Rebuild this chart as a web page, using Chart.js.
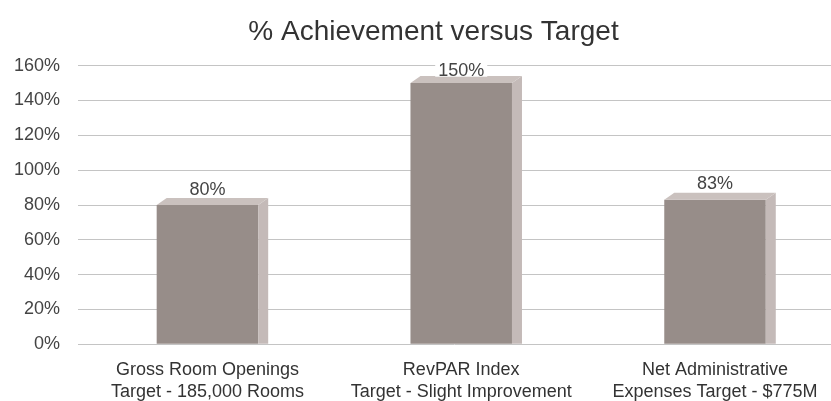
<!DOCTYPE html>
<html>
<head>
<meta charset="utf-8">
<script src="https://cdn.jsdelivr.net/npm/chart.js@4"></script>
<style>
html,body{margin:0;padding:0;background:#fff;overflow:hidden}
#wrap{width:831px;height:401px}
</style>
</head>
<body>
<div id="wrap"><canvas id="c" width="831" height="401"></canvas></div>
<script>
// ---- data ----
const chartTitle = '% Achievement versus Target';
const categories = [
  ['Gross Room Openings', 'Target - 185,000 Rooms'],
  ['RevPAR Index', 'Target - Slight Improvement'],
  ['Net Administrative', 'Expenses Target - $775M']
];
const achievement = [80, 150, 83];
const yTickValues = [0, 20, 40, 60, 80, 100, 120, 140, 160];

// ---- style ----
const FONT = '"Liberation Sans", Arial, Helvetica, sans-serif';
const FRONT = '#978d89';
const SIDE = '#c4bab8';
const TOP = '#cac1be';
const DX = 10, DY = 7;

const bar3d = {
  id: 'bar3d',
  afterDatasetsDraw(chart) {
    const ctx = chart.ctx;
    chart.getDatasetMeta(0).data.forEach(b => {
      const p = b.getProps(['x', 'y', 'base', 'width'], true);
      const l = p.x - p.width / 2, r = p.x + p.width / 2;
      ctx.save();
      ctx.fillStyle = SIDE;
      ctx.beginPath();
      ctx.moveTo(r, p.y); ctx.lineTo(r + DX, p.y - DY); ctx.lineTo(r + DX, p.base); ctx.lineTo(r, p.base);
      ctx.closePath(); ctx.fill();
      ctx.fillStyle = TOP;
      ctx.beginPath();
      ctx.moveTo(l, p.y); ctx.lineTo(l + DX, p.y - DY); ctx.lineTo(r + DX, p.y - DY); ctx.lineTo(r, p.y);
      ctx.closePath(); ctx.fill();
      ctx.restore();
    });
  }
};

const valueLabels = {
  id: 'valueLabels',
  afterDatasetsDraw(chart) {
    const ctx = chart.ctx;
    const top = chart.chartArea.top;
    ctx.save();
    ctx.font = '18px ' + FONT;
    ctx.textAlign = 'center';
    ctx.textBaseline = 'alphabetic';
    chart.getDatasetMeta(0).data.forEach((b, i) => {
      const p = b.getProps(['x', 'y'], true);
      const txt = achievement[i] + '%';
      const by = Math.max(p.y - 10.5, top + 10);
      const w = ctx.measureText(txt).width;
      ctx.fillStyle = '#ffffff';
      ctx.fillRect(p.x - w / 2 - 3, by - 13, w + 6, 14);
      ctx.fillStyle = '#444444';
      ctx.fillText(txt, p.x, by);
    });
    ctx.restore();
  }
};

const titlePlugin = {
  id: 'titlePlugin',
  afterDraw(chart) {
    const ctx = chart.ctx;
    ctx.save();
    ctx.font = '28px ' + FONT;
    ctx.fillStyle = '#333333';
    ctx.textAlign = 'center';
    ctx.textBaseline = 'alphabetic';
    ctx.fillText(chartTitle, 433.5, 40);
    ctx.restore();
  }
};

new Chart(document.getElementById('c'), {
  type: 'bar',
  data: {
    datasets: [{
      data: achievement.map((v, i) => ({ x: i, y: v })),
      backgroundColor: FRONT,
      borderWidth: 0,
      barPercentage: 0.4,
      categoryPercentage: 1
    }]
  },
  options: {
    responsive: false,
    animation: false,
    devicePixelRatio: 1,
    layout: { padding: { top: 65.7, right: 0, bottom: 0, left: 0 } },
    plugins: {
      legend: { display: false },
      title: { display: false },
      tooltip: { enabled: false }
    },
    scales: {
      x: {
        type: 'linear',
        offset: false,
        min: -0.51,
        max: 2.457,
        grid: { display: false },
        border: { display: false },
        afterBuildTicks: s => { s.ticks = categories.map((_, i) => ({ value: i })); },
        afterFit: s => { s.height = 401 - 344.3; },
        ticks: {
          autoSkip: false,
          maxRotation: 0,
          minRotation: 0,
          padding: 7,
          color: '#333333',
          font: { family: FONT, size: 18, lineHeight: 22 / 18 },
          callback: v => categories[Math.round(v)]
        }
      },
      y: {
        min: 0,
        max: 160,
        afterBuildTicks: s => { s.ticks = yTickValues.map(v => ({ value: v })); },
        afterFit: s => { s.width = 78; },
        grid: { color: '#c4c4c4', lineWidth: 1, drawTicks: false },
        border: { display: false },
        ticks: {
          padding: 18,
          color: '#444444',
          font: { family: FONT, size: 18 },
          callback: v => v + '%'
        }
      }
    }
  },
  plugins: [bar3d, valueLabels, titlePlugin]
});
</script>
</body>
</html>
